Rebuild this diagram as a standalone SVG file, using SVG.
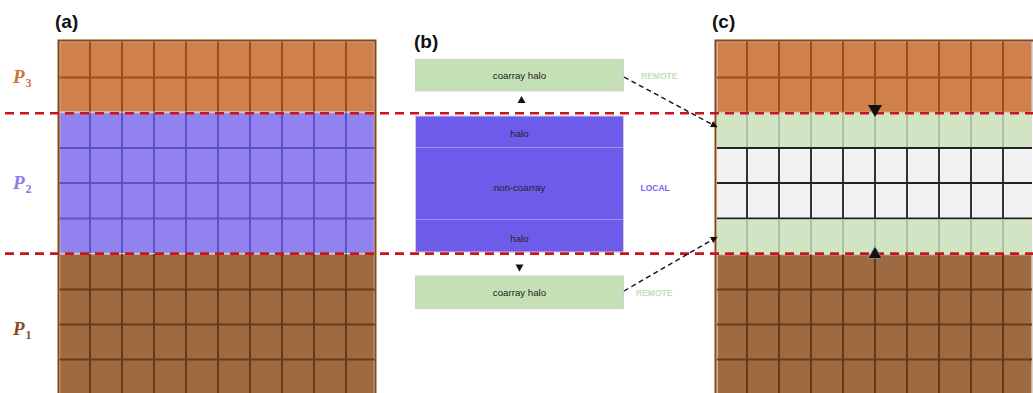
<svg xmlns="http://www.w3.org/2000/svg" width="1033" height="393" viewBox="0 0 1033 393">
<defs>
<style>
.lbl{font-family:"Liberation Sans",Arial,sans-serif;font-weight:bold;font-size:19px;fill:#111}
.box{font-family:"Liberation Sans",Arial,sans-serif;font-size:9.7px;fill:#222;text-anchor:middle}
.tag{font-family:"Liberation Sans",Arial,sans-serif;font-weight:bold;font-size:8.5px;text-anchor:start}
.p{font-family:"Liberation Serif","Times New Roman",serif;font-weight:bold;font-style:italic;font-size:19px}
.sub{font-size:12px;font-style:normal}
.blk{stroke:#c8c8c8;stroke-width:1.5}
.cut{fill:none;stroke:#c9141b;stroke-width:2.6;stroke-dasharray:9 6}
.link{fill:none;stroke:#111;stroke-width:1.4;stroke-dasharray:5 3.5}
.frame{fill:none;stroke:#8b4513;stroke-width:2}
</style>
<marker id="ah" viewBox="0 0 10 10" refX="9" refY="5" markerWidth="7" markerHeight="7" orient="auto" markerUnits="userSpaceOnUse">
<path d="M0,0 L10,5 L0,10 z" fill="#111"/>
</marker>
</defs>
<rect width="1033" height="393" fill="#fff"/>

<g id="panel-a">
<text class="lbl" x="55" y="28">(a)</text>
<g id="a-p3">
<rect class="blk" x="59.5" y="41.5" width="315" height="70.5" fill="#d17f4b"/>
<path d="M90,41.5V112M122,41.5V112M154,41.5V112M186,41.5V112M218,41.5V112M250,41.5V112M282,41.5V112M314,41.5V112M346,41.5V112M59.5,77.5H374.5" stroke="#9b4f1b" stroke-width="2" fill="none"/>
</g>
<g id="a-p2">
<rect class="blk" x="59.5" y="112.5" width="315" height="141" fill="#9282ef"/>
<path d="M90,112.5V253.5M122,112.5V253.5M154,112.5V253.5M186,112.5V253.5M218,112.5V253.5M250,112.5V253.5M282,112.5V253.5M314,112.5V253.5M346,112.5V253.5M59.5,148H374.5M59.5,183H374.5M59.5,218.5H374.5" stroke="#6050c8" stroke-width="2" fill="none"/>
</g>
<g id="a-p1">
<rect class="blk" x="59.5" y="254" width="315" height="141" fill="#9e6a42"/>
<path d="M90,254V395M122,254V395M154,254V395M186,254V395M218,254V395M250,254V395M282,254V395M314,254V395M346,254V395M59.5,289.5H374.5M59.5,324.5H374.5M59.5,359.5H374.5" stroke="#6a3a14" stroke-width="2" fill="none"/>
</g>
<path class="frame" d="M58.5,393V40.5H375.5V393"/>
<text class="p" x="13" y="83" fill="#c8733a">P<tspan class="sub" dx="1" dy="4">3</tspan></text>
<text class="p" x="13" y="189" fill="#8a7be8">P<tspan class="sub" dx="1" dy="4">2</tspan></text>
<text class="p" x="13" y="335" fill="#8b4a1e">P<tspan class="sub" dx="1" dy="4">1</tspan></text>
</g>

<g id="panel-b">
<text class="lbl" x="414" y="48">(b)</text>
<g id="b-top-remote">
<rect x="415.5" y="59.5" width="208" height="31.5" fill="#c5e0b4" stroke="#d0d0d0" stroke-width="1"/>
<text class="box" x="519.5" y="79">coarray halo</text>
<text class="tag" x="641" y="78.5" fill="#c5e0b4">REMOTE</text>
</g>
<path d="M521.5,96 L525.5,103 L517.5,103 z" fill="#111"/>
<g id="b-local">
<rect x="415.5" y="116" width="208" height="136" fill="#6d5be9" stroke="#d0d0d0" stroke-width="1"/>
<path d="M415.5,147.5H623.5M415.5,219.5H623.5" stroke="#9d90f2" stroke-width="1.2"/>
<text class="box" x="519.5" y="136.5">halo</text>
<text class="box" x="519.5" y="191">non-coarray</text>
<text class="box" x="519.5" y="241.5">halo</text>
<text class="tag" x="640.5" y="190.5" fill="#7a66f0">LOCAL</text>
</g>
<path d="M515.5,264.5 L523.5,264.5 L519.5,271.5 z" fill="#111"/>
<g id="b-bottom-remote">
<rect x="415.5" y="276" width="208" height="32.5" fill="#c5e0b4" stroke="#d0d0d0" stroke-width="1"/>
<text class="box" x="519.5" y="296">coarray halo</text>
<text class="tag" x="636" y="295.5" fill="#c5e0b4">REMOTE</text>
</g>
</g>

<g id="panel-c">
<text class="lbl" x="712" y="28">(c)</text>
<g id="c-p3">
<rect class="blk" x="717" y="41.5" width="315" height="71" fill="#d17f4b"/>
<path d="M747,41.5V112.5M779,41.5V112.5M811,41.5V112.5M843,41.5V112.5M875,41.5V112.5M907,41.5V112.5M939,41.5V112.5M971,41.5V112.5M1003,41.5V112.5M717,77.5H1032" stroke="#9b4f1b" stroke-width="2" fill="none"/>
</g>
<g id="c-halo-top">
<rect x="717" y="113" width="315" height="34.5" fill="#d1e5c5"/>
<path d="M747,113V147.5M779,113V147.5M811,113V147.5M843,113V147.5M875,113V147.5M907,113V147.5M939,113V147.5M971,113V147.5M1003,113V147.5" stroke="#a2b498" stroke-width="1.5" fill="none"/>
</g>
<g id="c-interior">
<rect x="717" y="147.5" width="315" height="71" fill="#f2f2f2"/>
<path d="M747,147.5V218.5M779,147.5V218.5M811,147.5V218.5M843,147.5V218.5M875,147.5V218.5M907,147.5V218.5M939,147.5V218.5M971,147.5V218.5M1003,147.5V218.5M717,148H1032M717,183H1032M717,218.5H1032" stroke="#222" stroke-width="1.8" fill="none"/>
</g>
<g id="c-halo-bottom">
<rect x="717" y="219.5" width="315" height="34" fill="#d1e5c5"/>
<path d="M747,219.5V253.5M779,219.5V253.5M811,219.5V253.5M843,219.5V253.5M875,219.5V253.5M907,219.5V253.5M939,219.5V253.5M971,219.5V253.5M1003,219.5V253.5" stroke="#a2b498" stroke-width="1.5" fill="none"/>
</g>
<g id="c-p1">
<rect class="blk" x="717" y="254.5" width="315" height="141" fill="#9e6a42"/>
<path d="M747,254.5V395M779,254.5V395M811,254.5V395M843,254.5V395M875,254.5V395M907,254.5V395M939,254.5V395M971,254.5V395M1003,254.5V395M717,289.5H1032M717,324.5H1032M717,359.5H1032" stroke="#6a3a14" stroke-width="2" fill="none"/>
</g>
<path class="frame" d="M715.5,393V40.5H1033"/>
</g>

<g id="cuts">
<line class="cut" x1="5" y1="113.3" x2="1033" y2="113.3"/>
<line class="cut" x1="5" y1="253.6" x2="1033" y2="253.6"/>
</g>

<g id="connectors">
<path class="link" d="M624,77 L717,127" marker-end="url(#ah)"/>
<path class="link" d="M624,291 L717,237" marker-end="url(#ah)"/>
<path d="M868,105 L882,105 L875,117 z" fill="#111"/>
<path d="M875,246.5 L882,258.5 L868,258.5 z" fill="#111" stroke="#999" stroke-width="0.8"/>
</g>
</svg>
